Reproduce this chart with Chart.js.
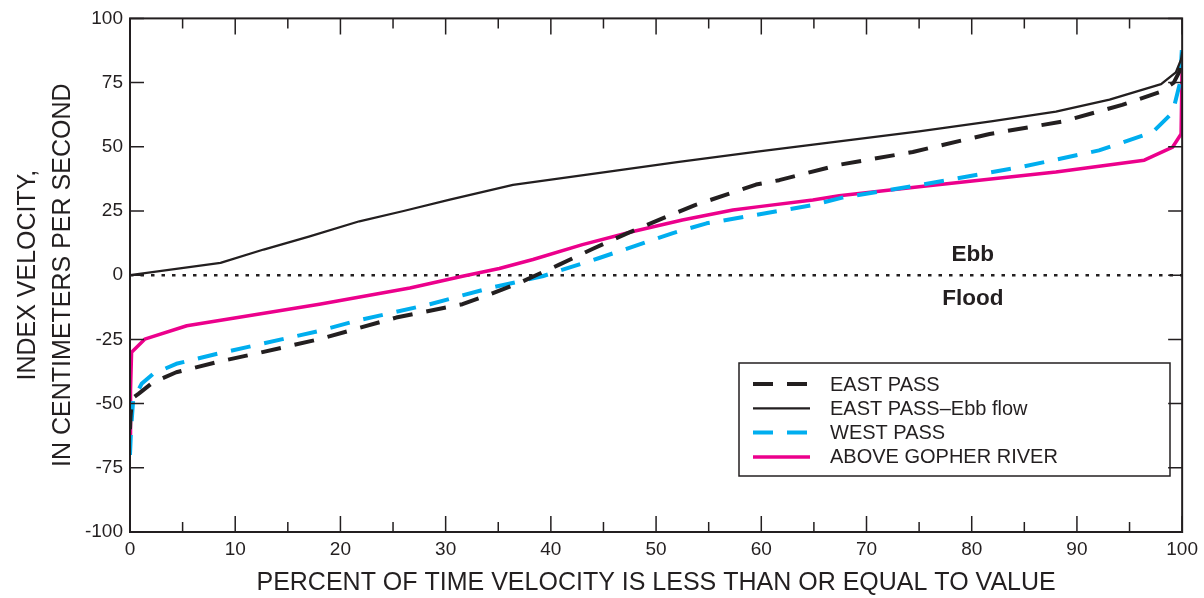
<!DOCTYPE html>
<html>
<head>
<meta charset="utf-8">
<title>Index velocity duration curves</title>
<script src="https://cdn.jsdelivr.net/npm/chart.js@4.4.1/dist/chart.umd.min.js"></script>
<style>
  html, body { margin: 0; padding: 0; background: #fff; }
  #wrap { width: 1204px; height: 598px; position: relative; }
</style>
</head>
<body>
<div id="wrap"><canvas id="velChart"></canvas></div>
<script>
// percent of time (x) and index velocity, cm/s (y) for each site
const eastPassPct = [0, 0.05, 0.2, 0.8, 2.2, 4.4, 8.2, 12, 18, 25.3, 31.6, 34.2, 37, 40.8, 44, 47.3, 50.5, 53.7, 57, 59.5, 61.7, 67.4, 74.4, 81.7, 88.6, 94.3, 97.8, 99.2, 99.7, 100];
const eastPassVel = [-60, -55, -48, -46.2, -41.7, -37.8, -33.9, -30.5, -24.9, -16.5, -11.3, -7.5, -3, 4.1, 10.3, 16.4, 21.9, 27.3, 31.8, 35.3, 37, 43, 48, 55, 59.8, 66.3, 71.2, 75, 79, 85];

const ebbFlowPct = [0, 8.6, 12.7, 17, 21.8, 26, 30.4, 36.4, 45, 52, 59.8, 67.4, 75, 82, 88, 93.1, 98, 99.4, 99.9, 100];
const ebbFlowVel = [0, 4.8, 10, 15, 21, 25, 29.4, 35.2, 40, 44, 48.2, 52.1, 56, 60, 63.7, 68.4, 74.4, 79, 84, 87];

const westPassPct = [0, 0.1, 0.3, 1.1, 2.2, 4.4, 8.2, 12, 18, 21.5, 28.5, 34.2, 39.2, 44.6, 51.6, 54.8, 59.5, 64.9, 67.7, 75, 84.8, 92.1, 97.2, 99.1, 99.8, 100];
const westPassVel = [-70, -60, -48.7, -42.3, -38.4, -34.5, -30.7, -27.2, -21.7, -17.8, -11.3, -5, -0.4, 6.7, 16.4, 20.2, 23.5, 27.3, 30.2, 35.1, 42.2, 48.6, 55.7, 63.4, 75, 90];

const gopherPct = [0, 0.05, 0.15, 1.4, 5.4, 12, 18, 26.6, 31.6, 35.1, 38.3, 43, 47.8, 52.5, 57.3, 59.8, 64.9, 67.4, 75, 88, 96.4, 99.1, 99.9, 100];
const gopherVel = [-62, -45, -30, -24.9, -19.7, -15.3, -11.3, -5, -0.4, 2.6, 6.1, 11.9, 17, 21.5, 25.4, 26.7, 29.3, 30.9, 34.4, 40.2, 44.8, 49.9, 55, 83];

const xTicks = [0, 10, 20, 30, 40, 50, 60, 70, 80, 90, 100];
const xMinorTicks = [5, 15, 25, 35, 45, 55, 65, 75, 85, 95];
const yTicks = [-100, -75, -50, -25, 0, 25, 50, 75, 100];

const ink = '#231f20';
const cyan = '#00aeef';
const magenta = '#ec008c';
const fontFamily = '"Liberation Sans", Arial, Helvetica, sans-serif';

function toPoints(xs, ys) {
  return xs.map((x, i) => ({ x: x, y: ys[i] }));
}

// frame with inward ticks on all four sides
const frameTicks = {
  id: 'frameTicks',
  afterDraw(chart) {
    const { ctx, chartArea: a, scales: { x, y } } = chart;
    ctx.save();
    ctx.strokeStyle = ink;
    ctx.lineWidth = 2;
    ctx.strokeRect(a.left, a.top, a.right - a.left, a.bottom - a.top);
    ctx.lineWidth = 1.5;
    ctx.beginPath();
    xTicks.forEach(v => {
      const px = x.getPixelForValue(v);
      ctx.moveTo(px, a.bottom); ctx.lineTo(px, a.bottom - 16);
      ctx.moveTo(px, a.top); ctx.lineTo(px, a.top + 16);
    });
    xMinorTicks.forEach(v => {
      const px = x.getPixelForValue(v);
      ctx.moveTo(px, a.bottom); ctx.lineTo(px, a.bottom - 10);
      ctx.moveTo(px, a.top); ctx.lineTo(px, a.top + 10);
    });
    yTicks.forEach(v => {
      const py = y.getPixelForValue(v);
      ctx.moveTo(a.left, py); ctx.lineTo(a.left + 14, py);
      ctx.moveTo(a.right, py); ctx.lineTo(a.right - 14, py);
    });
    ctx.stroke();
    ctx.restore();
  }
};

// legend box and Ebb / Flood notes inside the plot
const notes = {
  id: 'notes',
  afterDraw(chart) {
    const { ctx, scales: { x, y } } = chart;
    ctx.save();
    ctx.fillStyle = ink;
    ctx.font = 'bold 22.5px ' + fontFamily;
    ctx.textAlign = 'center';
    ctx.textBaseline = 'middle';
    ctx.fillText('Ebb', x.getPixelForValue(80.1), y.getPixelForValue(7.8));
    ctx.fillText('Flood', x.getPixelForValue(80.1), y.getPixelForValue(-9.3));

    const bx = 739, by = 363, bw = 431, bh = 113;
    ctx.strokeStyle = ink;
    ctx.lineWidth = 1.5;
    ctx.strokeRect(bx, by, bw, bh);
    ctx.font = '20px ' + fontFamily;
    ctx.textAlign = 'left';
    const items = chart.data.datasets.filter(d => d.label);
    items.forEach((d, i) => {
      const ry = by + 21 + i * 24.3;
      ctx.beginPath();
      ctx.strokeStyle = d.borderColor;
      ctx.lineWidth = d.borderWidth;
      ctx.setLineDash(d.borderDash || []);
      ctx.moveTo(bx + 14, ry);
      ctx.lineTo(bx + 71, ry);
      ctx.stroke();
      ctx.setLineDash([]);
      ctx.fillStyle = ink;
      ctx.fillText(d.label, bx + 91, ry + 1);
    });
    ctx.restore();
  }
};

new Chart(document.getElementById('velChart'), {
  type: 'line',
  data: {
    datasets: [
      {
        label: 'EAST PASS',
        data: toPoints(eastPassPct, eastPassVel),
        borderColor: ink, borderWidth: 4, borderDash: [20, 14]
      },
      {
        label: 'EAST PASS\u2013Ebb flow',
        data: toPoints(ebbFlowPct, ebbFlowVel),
        borderColor: ink, borderWidth: 2.3
      },
      {
        label: 'WEST PASS',
        data: toPoints(westPassPct, westPassVel),
        borderColor: cyan, borderWidth: 4, borderDash: [20, 14]
      },
      {
        label: 'ABOVE GOPHER RIVER',
        data: toPoints(gopherPct, gopherVel),
        borderColor: magenta, borderWidth: 3.5
      },
      {
        label: '',
        data: toPoints([0, 100], [0, 0]),
        borderColor: ink, borderWidth: 2.5, borderDash: [3.5, 7]
      }
    ]
  },
  options: {
    responsive: true,
    maintainAspectRatio: false,
    animation: false,
    events: [],
    layout: { padding: { top: 16, right: 21, left: 0, bottom: 0 } },
    elements: { point: { radius: 0 }, line: { tension: 0, borderJoinStyle: 'round' } },
    plugins: { legend: { display: false }, tooltip: { enabled: false } },
    scales: {
      x: {
        type: 'linear', min: 0, max: 100,
        grid: { display: false, drawTicks: false },
        border: { display: false },
        ticks: { stepSize: 10, color: ink, padding: 6, font: { family: fontFamily, size: 19 } },
        title: {
          display: true, color: ink, padding: { top: 6, bottom: 0 },
          text: 'PERCENT OF TIME VELOCITY IS LESS THAN OR EQUAL TO VALUE',
          font: { family: fontFamily, size: 25 }
        },
        afterFit(scale) { scale.height = 66; }
      },
      y: {
        min: -100, max: 100,
        grid: { display: false, drawTicks: false },
        border: { display: false },
        ticks: { stepSize: 25, color: ink, padding: 7, font: { family: fontFamily, size: 19 } },
        title: {
          display: true, color: ink, padding: { top: 10.5, bottom: 0 },
          text: ['INDEX VELOCITY,', 'IN CENTIMETERS PER SECOND'],
          font: { family: fontFamily, size: 25, lineHeight: 1.4 }
        },
        afterFit(scale) { scale.width = 130; }
      }
    }
  },
  plugins: [frameTicks, notes]
});
</script>
</body>
</html>
